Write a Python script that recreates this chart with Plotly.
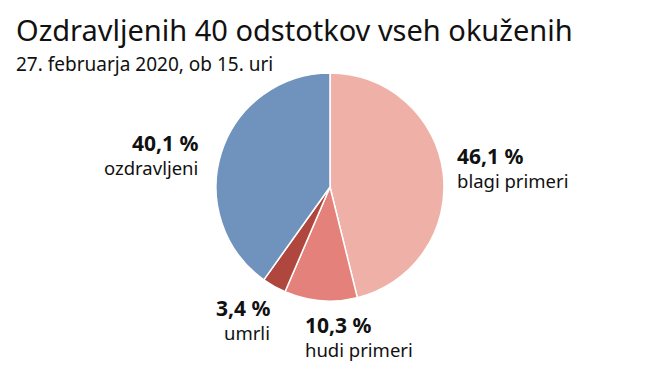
import plotly.graph_objects as go

labels = ["blagi primeri", "hudi primeri", "umrli", "ozdravljeni"]
values = [46.1, 10.3, 3.4, 40.1]
pct_text = ["46,1 %", "10,3 %", "3,4 %", "40,1 %"]
colors = ["#efb0a8", "#e3817a", "#b0473f", "#7093bd"]

title = "Ozdravljenih 40 odstotkov vseh okuženih"
subtitle = "27. februarja 2020, ob 15. uri"

W, H = 660, 371
cx, cy, r = 330, 187, 114

fig = go.Figure(go.Pie(
    labels=labels, values=values, sort=False, direction="clockwise",
    rotation=0, textinfo="none", hoverinfo="label+percent",
    marker=dict(colors=colors, line=dict(color="white", width=1.5)),
    domain=dict(x=[(cx - r) / W, (cx + r) / W], y=[1 - (cy + r) / H, 1 - (cy - r) / H]),
    showlegend=False,
))

font = "Noto Sans, Open Sans, sans-serif"
# label positions (pixels) and alignment
label_pos = [(455, 156, "left"), (303, 325, "left"), (272, 308, "right"), (200, 143, "right")]
ann = []
for (x, y, al), p, l in zip(label_pos, pct_text, labels):
    ann.append(dict(x=x / W, y=1 - y / H, xref="paper", yref="paper", xanchor=al, yanchor="middle",
                    text="<b>" + p + "</b>", showarrow=False, font=dict(size=21, color="#111", family=font)))
    ann.append(dict(x=x / W, y=1 - (y + 24) / H, xref="paper", yref="paper", xanchor=al, yanchor="middle",
                    text=l, showarrow=False, font=dict(size=18.5, color="#111", family=font)))

ann.append(dict(x=14 / W, y=1 - 29 / H, xref="paper", yref="paper", xanchor="left", yanchor="middle",
                text=title, showarrow=False, font=dict(size=29, color="#111", family=font)))
ann.append(dict(x=14 / W, y=1 - 64 / H, xref="paper", yref="paper", xanchor="left", yanchor="middle",
                text=subtitle, showarrow=False, font=dict(size=19, color="#111", family=font)))

fig.update_layout(width=W, height=H, margin=dict(l=0, r=0, t=0, b=0),
                  paper_bgcolor="white", plot_bgcolor="white", annotations=ann)
fig.write_html("out.html")
